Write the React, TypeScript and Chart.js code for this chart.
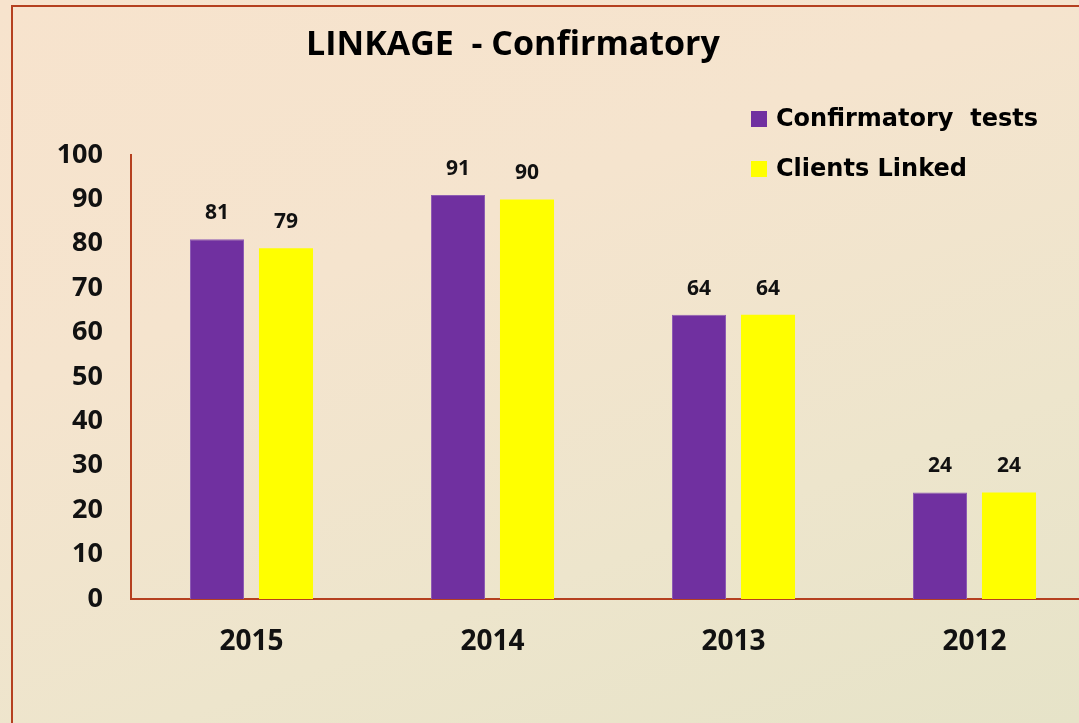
import React, { useEffect, useRef } from "react";
import { Chart, registerables } from "chart.js";

Chart.register(...registerables);

const years = ["2015", "2014", "2013", "2012"];
const confirmatoryTests = [81, 91, 64, 24];
const clientsLinked = [79, 90, 64, 24];
const seriesNames = ["Confirmatory  tests", "Clients Linked"];
const seriesColors = ["#7030A0", "#FFFF00"];
const chartTitle = "LINKAGE  - Confirmatory";

const AXIS_COLOR = "#B5401F";

const labelPlugin = {
  id: "customDecor",
  afterDatasetsDraw(chart: any) {
    const ctx = chart.ctx;
    ctx.save();
    ctx.fillStyle = "#111";
    ctx.font = "bold 21px 'Open Sans'";
    ctx.textAlign = "center";
    ctx.textBaseline = "middle";
    chart.data.datasets.forEach((ds: any, di: number) => {
      const meta = chart.getDatasetMeta(di);
      meta.data.forEach((bar: any, i: number) => {
        ctx.fillText(String(ds.data[i]), bar.x, bar.y - 26);
      });
    });
    ctx.restore();
  },
  afterDraw(chart: any) {
    const ctx = chart.ctx;
    ctx.save();
    // title
    ctx.fillStyle = "#000";
    ctx.font = "bold 34px 'Open Sans'";
    ctx.textAlign = "center";
    ctx.textBaseline = "middle";
    ctx.fillText(chartTitle, 513, 45);
    // legend
    ctx.font = "bold 24px 'DejaVu Sans'";
    ctx.textAlign = "left";
    chart.data.datasets.forEach((ds: any, i: number) => {
      const cy = 119 + i * 50;
      ctx.fillStyle = ds.backgroundColor;
      ctx.fillRect(751, cy - 8, 16, 16);
      ctx.fillStyle = "#000";
      ctx.fillText(ds.label, 776, cy + 1);
    });
    ctx.restore();
  },
};

export default function App() {
  const ref = useRef<HTMLCanvasElement>(null);
  useEffect(() => {
    if (!ref.current) return;
    const chart = new Chart(ref.current, {
      type: "bar",
      data: {
        labels: years,
        datasets: [
          {
            label: seriesNames[0],
            data: confirmatoryTests,
            backgroundColor: seriesColors[0],
            borderColor: "#8E5DB3",
            borderWidth: 1,
          },
          {
            label: seriesNames[1],
            data: clientsLinked,
            backgroundColor: seriesColors[1],
            borderWidth: 0,
          },
        ],
      },
      options: {
        animation: false,
        responsive: false,
        devicePixelRatio: 1,
        categoryPercentage: 0.5726,
        barPercentage: 0.783,
        layout: { padding: { top: 155, left: 0, right: 5, bottom: 0 } },
        plugins: {
          legend: { display: false },
          title: { display: false },
          tooltip: { enabled: false },
        },
        scales: {
          x: {
            grid: { display: false, drawTicks: false },
            border: { display: true, color: AXIS_COLOR, width: 2 },
            ticks: {
              color: "#111",
              font: { family: "'Open Sans'", size: 28, weight: "bold" },
              padding: 26,
            },
            afterFit(scale: any) {
              scale.height = 124;
            },
          },
          y: {
            min: 0,
            max: 100,
            grid: { display: false, drawTicks: false },
            border: { display: true, color: AXIS_COLOR, width: 2 },
            ticks: {
              stepSize: 10,
              color: "#111",
              font: { family: "'Open Sans'", size: 27, weight: "bold" },
              padding: 28,
            },
            afterFit(scale: any) {
              scale.width = 131;
            },
          },
        },
      },
      plugins: [labelPlugin],
    });
    return () => chart.destroy();
  }, []);

  return (
    <div
      style={{
        position: "fixed",
        left: 0,
        top: 0,
        width: 1079,
        height: 723,
        overflow: "hidden",
        background:
          "linear-gradient(160deg, #F7E3CD 0%, #F5E4CE 35%, #EDE5CC 70%, #E6E3C8 100%)",
      }}
    >
      <div
        style={{
          position: "absolute",
          left: 11,
          top: 5,
          width: 2000,
          height: 2000,
          borderLeft: `2px solid ${AXIS_COLOR}`,
          borderTop: `2px solid ${AXIS_COLOR}`,
        }}
      />
      <canvas
        ref={ref}
        width={1100}
        height={723}
        style={{ position: "absolute", left: 0, top: 0, width: 1100, height: 723 }}
      />
    </div>
  );
}
